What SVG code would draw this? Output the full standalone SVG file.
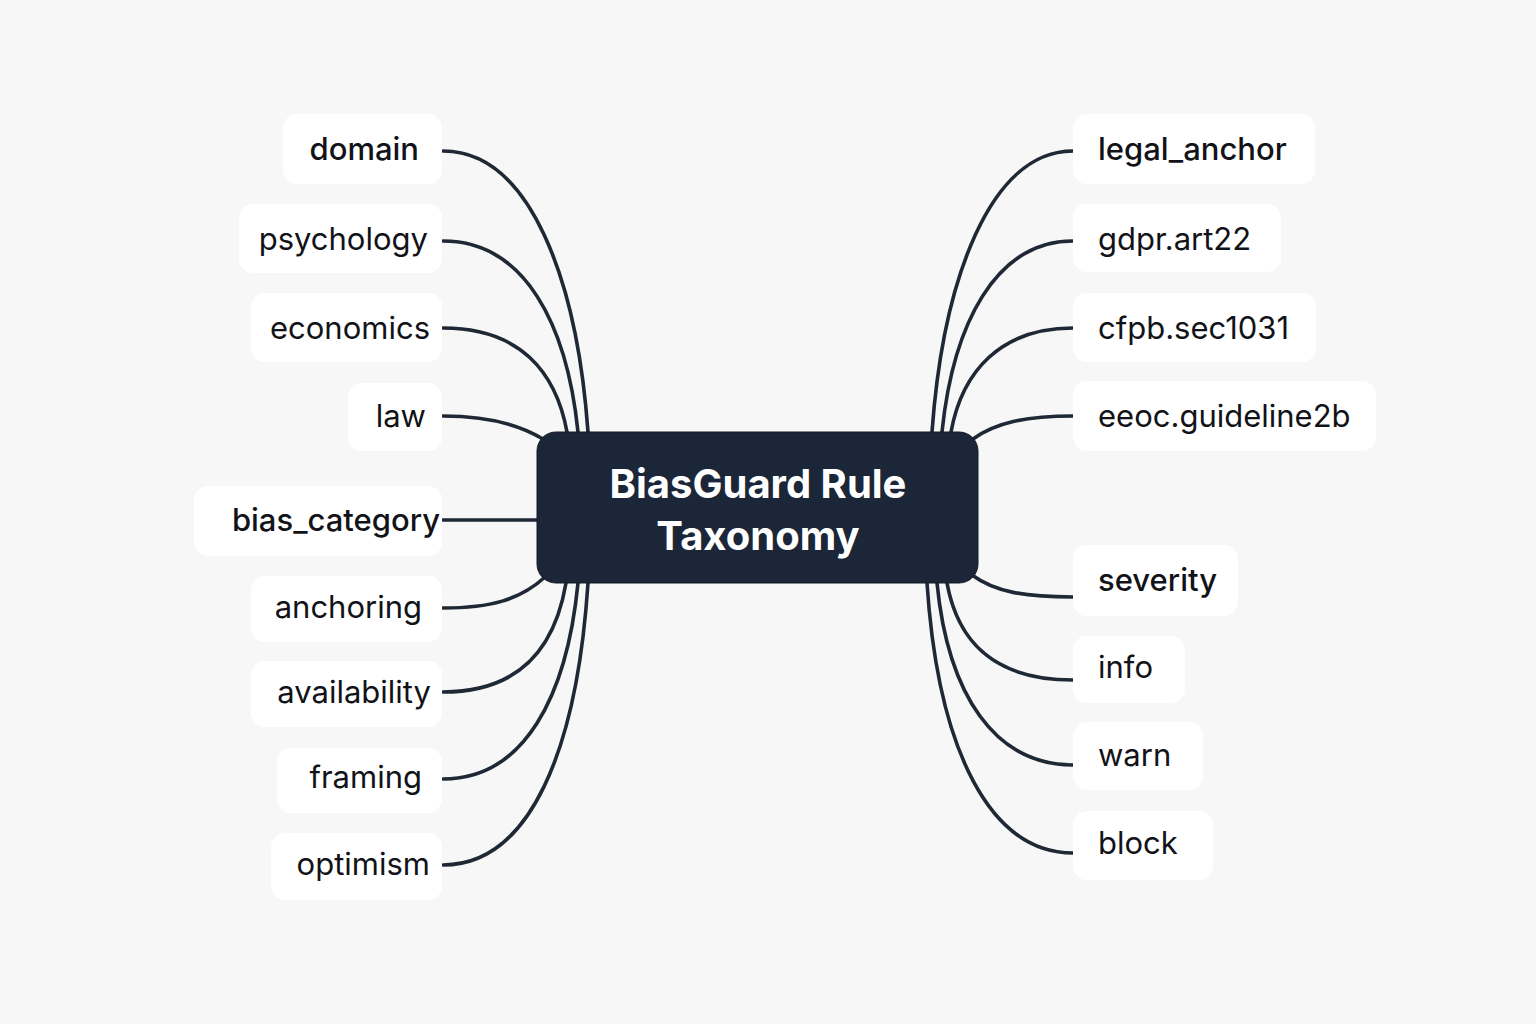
<svg xmlns="http://www.w3.org/2000/svg" width="1536" height="1024" viewBox="0 0 1536 1024">
<style>
.bg{fill:#f7f7f7}
.box{fill:#ffffff}
.t{font-family:Inter,"Liberation Sans",sans-serif;font-size:31px;fill:#111318}
.h{font-weight:500}
.l{text-anchor:end}
.c{fill:none;stroke:#1f2835;stroke-width:3.6;stroke-linecap:round}
.center{fill:#1b2638;stroke:#121a28;stroke-width:1}
.ct{font-family:Inter,"Liberation Sans",sans-serif;font-size:40px;font-weight:700;fill:#ffffff;text-anchor:middle}
</style>
<rect class="bg" x="0" y="0" width="1536" height="1024"/>
<g id="connectors">
<path class="c" d="M443,151 C530,151 577,280 588,432"/>
<path class="c" d="M443,241 C525,241 567,325 578,432"/>
<path class="c" d="M443,328 C520,328 556,372 567,432"/>
<path class="c" d="M443,416 C490,416 520,425 543,439"/>
<path class="c" d="M443,520 L537,520"/>
<path class="c" d="M443,608 C490,608 520,600 545,577"/>
<path class="c" d="M443,692 C520,692 555,648 566,583"/>
<path class="c" d="M443,779 C525,779 567,695 578,583"/>
<path class="c" d="M443,865 C530,865 577,750 588,583"/>
<path class="c" d="M1073,151 C990,151 943,280 932,432"/>
<path class="c" d="M1073,241 C995,241 953,325 942,432"/>
<path class="c" d="M1073,328 C1000,328 962,372 951,432"/>
<path class="c" d="M1073,416 C1025,416 995,423 973,439"/>
<path class="c" d="M1073,597 C1025,597 995,592 972,575"/>
<path class="c" d="M1073,680 C995,680 958,643 947,583"/>
<path class="c" d="M1073,765 C995,765 948,695 937,583"/>
<path class="c" d="M1073,853 C990,853 938,750 927,583"/>
</g>
<g id="center">
<rect class="center" x="537" y="432" width="441" height="151" rx="19"/>
<text class="ct" x="758" y="498">BiasGuard Rule</text>
<text class="ct" x="758" y="550">Taxonomy</text>
</g>
<g id="n-domain"><rect class="box" x="283" y="114" width="159" height="70" rx="14"/><text class="t h l" x="419" y="160">domain</text></g>
<g id="n-psychology"><rect class="box" x="239" y="204" width="203" height="69" rx="14"/><text class="t l" x="428" y="250">psychology</text></g>
<g id="n-economics"><rect class="box" x="251" y="293" width="191" height="69" rx="14"/><text class="t l" x="430" y="339">economics</text></g>
<g id="n-law"><rect class="box" x="348" y="383" width="94" height="68" rx="14"/><text class="t l" x="426" y="427">law</text></g>
<g id="n-bias_category"><rect class="box" x="194" y="486" width="248" height="70" rx="14"/><text class="t h l" x="440" y="531">bias_category</text></g>
<g id="n-anchoring"><rect class="box" x="251" y="576" width="191" height="66" rx="14"/><text class="t l" x="422" y="618">anchoring</text></g>
<g id="n-availability"><rect class="box" x="251" y="661" width="191" height="66" rx="14"/><text class="t l" x="431" y="703">availability</text></g>
<g id="n-framing"><rect class="box" x="277" y="748" width="165" height="65" rx="14"/><text class="t l" x="422" y="788">framing</text></g>
<g id="n-optimism"><rect class="box" x="271" y="833" width="171" height="67" rx="14"/><text class="t l" x="430" y="875">optimism</text></g>
<g id="n-legal_anchor"><rect class="box" x="1073" y="114" width="242" height="70" rx="14"/><text class="t h" x="1098" y="160">legal_anchor</text></g>
<g id="n-gdpr"><rect class="box" x="1073" y="204" width="208" height="68" rx="14"/><text class="t" x="1098" y="250">gdpr.art22</text></g>
<g id="n-cfpb"><rect class="box" x="1073" y="293" width="243" height="69" rx="14"/><text class="t" x="1098" y="339">cfpb.sec1031</text></g>
<g id="n-eeoc"><rect class="box" x="1073" y="381" width="303" height="70" rx="14"/><text class="t" x="1098" y="427">eeoc.guideline2b</text></g>
<g id="n-severity"><rect class="box" x="1073" y="545" width="165" height="71" rx="14"/><text class="t h" x="1098" y="591">severity</text></g>
<g id="n-info"><rect class="box" x="1073" y="636" width="112" height="67" rx="14"/><text class="t" x="1098" y="678">info</text></g>
<g id="n-warn"><rect class="box" x="1073" y="722" width="130" height="68" rx="14"/><text class="t" x="1098" y="766">warn</text></g>
<g id="n-block"><rect class="box" x="1073" y="811" width="140" height="69" rx="14"/><text class="t" x="1098" y="854">block</text></g>
</svg>
